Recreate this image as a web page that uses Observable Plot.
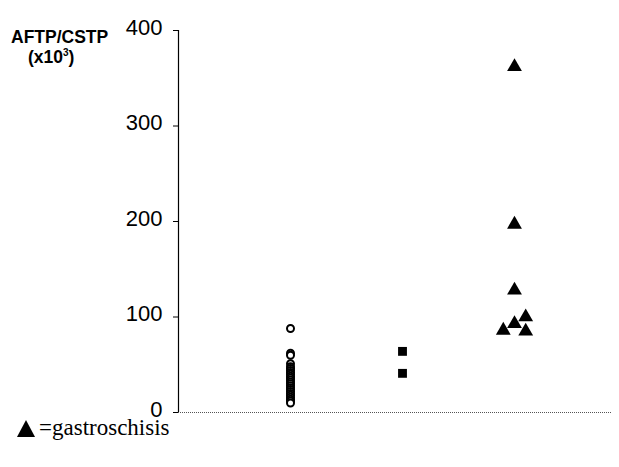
<!DOCTYPE html>
<html><head><meta charset="utf-8">
<script src="https://cdn.jsdelivr.net/npm/d3@7"></script>
<script src="https://cdn.jsdelivr.net/npm/@observablehq/plot@0.6"></script>
<style>
body{margin:0;background:#fff;width:619px;height:467px;overflow:hidden;position:relative;font-family:Arial,"Liberation Sans",sans-serif}
.lab{position:absolute;font-weight:bold;font-size:17.5px;line-height:1;color:#000;white-space:nowrap}
#lab1{left:11px;top:29px}
#lab2{left:28px;top:49px}
#legtri{position:absolute;left:17px;top:420px}
#legtxt{position:absolute;left:39px;top:422px;font-family:"Liberation Serif","Times New Roman",Times,serif;font-size:23px;line-height:0.5;white-space:nowrap;color:#000}
</style></head>
<body>
<div id="chart"></div>
<div class="lab" id="lab1">AFTP/CSTP</div>
<div class="lab" id="lab2">(x10<span style="font-size:10px;position:relative;top:-7px">3</span>)</div>
<svg id="legtri" width="18" height="17"><polygon points="9,0 18,17 0,17" fill="#000"/></svg>
<div id="legtxt">=gastroschisis</div>
<script>
const groups = ["control", "other", "gastroschisis"];
const groupPos = [1, 2, 3];
const controlValues = [88, 62, 60, 51, 48, 46, 44, 42, 40, 38, 36, 34, 32, 30, 28, 26, 24, 22, 20, 18, 16, 14, 12, 10];
const otherValues = [64, 41];
const gastroValues = [362, 197, 128, 86, 93, 100, 85];
const gastroOffsets = [0, 0, 0, -0.1, 0, 0.1, 0.1];
const yTicks = [0, 100, 200, 300, 400];

const control = controlValues.map(v => ({x: groupPos[0], y: v}));
const other = otherValues.map(v => ({x: groupPos[1], y: v}));
const gastro = gastroValues.map((v, i) => ({x: groupPos[2] + gastroOffsets[i], y: v}));

const chart = Plot.plot({
  width: 619,
  height: 467,
  marginLeft: 178,
  marginRight: 7,
  marginTop: 30,
  marginBottom: 55,
  x: {domain: [0, 3.875], axis: null},
  y: {domain: [0, 400], ticks: yTicks},
  style: {fontFamily: "Arial, 'Liberation Sans', sans-serif", color: "#000", background: "#fff"},
  marks: [
    Plot.axisY({ticks: yTicks, tickSize: 5, tickFormat: () => "", label: null}),
    Plot.axisY({ticks: yTicks, tickSize: 0, tickPadding: 16, fontSize: 22, label: null, tickFormat: d => d, dy: -3}),
    Plot.ruleY([0], {stroke: "#555", strokeDasharray: "1,1", strokeWidth: 1.2}),
    Plot.ruleX([0], {y1: 0, y2: 400, stroke: "#000", strokeWidth: 1.2}),
    Plot.dot(control, {x: "x", y: "y", r: 3.5, stroke: "#000", strokeWidth: 2, fill: "#fff"}),
    Plot.dot(other, {x: "x", y: "y", r: 5, symbol: "square", fill: "#000"}),
    Plot.dot(gastro, {x: "x", y: "y", r: 5.5, symbol: "triangle", fill: "#000"})
  ]
});
document.getElementById("chart").appendChild(chart);
</script>
</body></html>
